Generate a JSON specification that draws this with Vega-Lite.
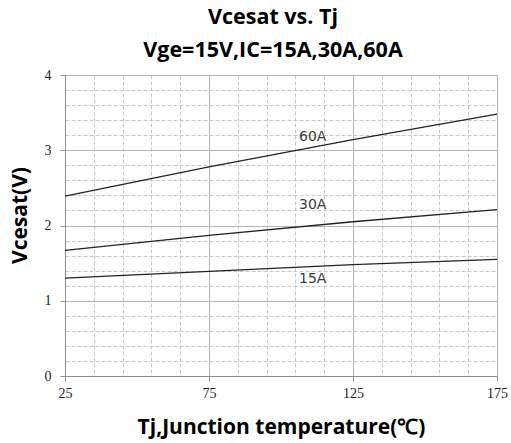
{
  "$schema": "https://vega.github.io/schema/vega-lite/v6.json",
  "width": 432,
  "height": 301,
  "autosize": "none",
  "padding": {"left": 65, "top": 75, "right": 14, "bottom": 67},
  "background": "white",
  "title": {
    "text": ["Vcesat vs. Tj", "Vge=15V,IC=15A,30A,60A"],
    "font": "Open Sans",
    "fontSize": 21.5,
    "fontWeight": "bold",
    "color": "#000000",
    "lineHeight": 33,
    "offset": 7,
    "dx": -8
  },
  "config": {
    "view": {"stroke": "#a8a8a8", "strokeWidth": 1},
    "axis": {
      "labelFont": "Liberation Serif",
      "labelFontSize": 14,
      "labelColor": "#222222",
      "labelOverlap": false,
      "labelFlush": false,
      "titleFont": "Open Sans",
      "titleFontSize": 21,
      "titleFontWeight": "bold",
      "titleColor": "#000000",
      "domainColor": "#909090",
      "tickColor": "#909090",
      "tickSize": 5
    }
  },
  "datasets": {
    "curves": [
      {"series": "60A", "tj": 25, "v": 2.39},
      {"series": "60A", "tj": 75, "v": 2.78},
      {"series": "60A", "tj": 125, "v": 3.14},
      {"series": "60A", "tj": 175, "v": 3.48},
      {"series": "30A", "tj": 25, "v": 1.67},
      {"series": "30A", "tj": 75, "v": 1.87},
      {"series": "30A", "tj": 125, "v": 2.05},
      {"series": "30A", "tj": 175, "v": 2.21},
      {"series": "15A", "tj": 25, "v": 1.3},
      {"series": "15A", "tj": 75, "v": 1.39},
      {"series": "15A", "tj": 125, "v": 1.48},
      {"series": "15A", "tj": 175, "v": 1.55}
    ],
    "labels": [
      {"label": "60A", "tj": 111, "v": 3.17},
      {"label": "30A", "tj": 111, "v": 2.27},
      {"label": "15A", "tj": 111, "v": 1.29}
    ]
  },
  "layer": [
    {
      "data": {"name": "labels"},
      "mark": {"type": "text", "font": "DejaVu Sans", "fontSize": 14, "color": "#3a3a3a", "align": "center", "baseline": "middle"},
      "encoding": {
        "x": {
          "field": "tj", "type": "quantitative",
          "scale": {"domain": [25, 175], "nice": false, "zero": false},
          "axis": {
            "orient": "bottom",
            "title": null,
            "values": [35,45,55,65,85,95,105,115,135,145,155,165],
            "labels": false, "ticks": false, "domain": false,
            "grid": true, "gridColor": "#c8c8c8", "gridDash": [4, 2]
          }
        },
        "y": {
          "field": "v", "type": "quantitative",
          "scale": {"domain": [0, 4], "nice": false},
          "axis": {
            "orient": "left",
            "title": null,
            "values": [0.2,0.4,0.6,0.8,1.2,1.4,1.6,1.8,2.2,2.4,2.6,2.8,3.2,3.4,3.6,3.8],
            "labels": false, "ticks": false, "domain": false,
            "grid": true, "gridColor": "#c8c8c8", "gridDash": [4, 2]
          }
        },
        "text": {"field": "label"}
      }
    },
    {
      "data": {"name": "curves"},
      "mark": {"type": "line", "color": "#222222", "strokeWidth": 1.3},
      "encoding": {
        "x": {
          "field": "tj", "type": "quantitative",
          "axis": {
            "orient": "bottom",
            "title": "Tj,Junction temperature(℃)",
            "titlePadding": 16,
            "values": [25, 75, 125, 175],
            "labelPadding": 5,
            "grid": true, "gridColor": "#b4b4b4"
          }
        },
        "y": {
          "field": "v", "type": "quantitative",
          "axis": {
            "orient": "left",
            "title": "Vcesat(V)",
            "titlePadding": 14,
            "titleY": 140,
            "values": [0, 1, 2, 3, 4],
            "format": "d",
            "labelPadding": 9,
            "grid": true, "gridColor": "#b4b4b4"
          }
        },
        "detail": {"field": "series"}
      }
    }
  ],
  "resolve": {"axis": {"x": "independent", "y": "independent"}}
}
